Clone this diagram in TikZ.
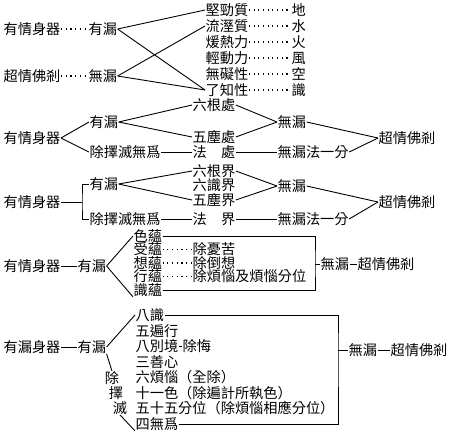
\documentclass[tikz,border=0pt]{standalone}
\usepackage{fontspec}
\usepackage{tikz}
\usetikzlibrary{positioning}
\newfontfamily\cjk{Noto Sans CJK TC}

\begin{document}
\begin{tikzpicture}[
    x=1pt, y=-1pt,
    lbl/.style={
      inner sep=0.4pt,
      anchor=west,
      text height=11.4pt,
      text depth=1.2pt,
      font=\cjk\fontsize{14.2pt}{14.2pt}\selectfont
    },
    zechar/.style={
      inner sep=0.4pt,
      text height=11.4pt,
      text depth=1.2pt,
      font=\cjk\fontsize{14.2pt}{14.2pt}\selectfont
    },
    link/.style={line width=0.9pt},
    dots/.style={line width=1.1pt, dash pattern=on 1.1pt off 3.6pt}
  ]
    \useasboundingbox (0,0) rectangle (457,437);

    \node[lbl] (body1) at (3,29) {有情身器};
    \node[lbl] (youlou1) at (88,29) {有漏};
    \node[lbl] (fo1) at (3,76) {超情佛剎};
    \node[lbl] (wulou1) at (88,76) {無漏};
    \node[lbl] (jian1) at (205,10) {堅勁質};
    \node[lbl] (liu1) at (205,26) {流溼質};
    \node[lbl] (nuan1) at (205,42) {煖熱力};
    \node[lbl] (qing1) at (205,58) {輕動力};
    \node[lbl] (ai1) at (205,74) {無礙性};
    \node[lbl] (zhi1) at (205,90) {了知性};
    \node[lbl] (di1) at (291,10) {地};
    \node[lbl] (shui1) at (291,26) {水};
    \node[lbl] (huo1) at (291,42) {火};
    \node[lbl] (feng1) at (291,58) {風};
    \node[lbl] (kong1) at (291,74) {空};
    \node[lbl] (shi1) at (291,90) {識};

    \draw[dots] (body1.east) -- (youlou1.west);
    \draw[dots] (fo1.east) -- (wulou1.west);
    \draw[link] (youlou1.east) -- (jian1.west);
    \draw[link] (youlou1.east) -- (zhi1.west);
    \draw[link] (wulou1.east) -- (liu1.west);
    \draw[link] (wulou1.east) -- (zhi1.west);
    \draw[dots] (jian1.east) -- (di1.west);
    \draw[dots] (liu1.east) -- (shui1.west);
    \draw[dots] (nuan1.east) -- (huo1.west);
    \draw[dots] (qing1.east) -- (feng1.west);
    \draw[dots] (ai1.east) -- (kong1.west);
    \draw[dots] (zhi1.east) -- (shi1.west);

    \node[lbl] (body2) at (3,138) {有情身器};
    \node[lbl] (youlou2) at (89,122) {有漏};
    \node[lbl] (wuwei2) at (89,152) {除擇滅無爲};
    \node[lbl] (gen2) at (192,105) {六根處};
    \node[lbl] (chen2) at (192,137) {五塵處};
    \node[lbl] (fa2) at (192,152) {法　處};
    \node[lbl] (wulou2) at (277,122) {無漏};
    \node[lbl] (fafen2) at (277,152) {無漏法一分};
    \node[lbl] (fo2) at (378,138) {超情佛剎};

    \draw[link] (body2.east) -- (youlou2.west);
    \draw[link] (body2.east) -- (wuwei2.west);
    \draw[link] (youlou2.east) -- (gen2.west);
    \draw[link] (youlou2.east) -- (chen2.west);
    \draw[link] (wuwei2.east) -- (fa2.west);
    \draw[link] (gen2.east) -- (wulou2.west);
    \draw[link] (chen2.east) -- (wulou2.west);
    \draw[link] (fa2.east) -- (fafen2.west);
    \draw[link] (wulou2.east) -- (fo2.west);
    \draw[link] (fafen2.east) -- (fo2.west);

    \node[lbl] (body3) at (3,202) {有情身器};
    \coordinate (fork3) at (82,202);
    \node[lbl] (youlou3) at (89,184) {有漏};
    \node[lbl] (wuwei3) at (89,219) {除擇滅無爲};
    \node[lbl] (gen3) at (192,171) {六根界};
    \node[lbl] (shi3) at (192,185) {六識界};
    \node[lbl] (chen3) at (192,200) {五塵界};
    \node[lbl] (fa3) at (192,219) {法　界};
    \node[lbl] (wulou3) at (277,186) {無漏};
    \node[lbl] (fafen3) at (277,219) {無漏法一分};
    \node[lbl] (fo3) at (378,202) {超情佛剎};

    \draw[link] (body3.east) -- (fork3);
    \draw[link] (youlou3.west) -| (fork3) |- (wuwei3.west);
    \draw[link] (youlou3.east) -- (gen3.west);
    \draw[link] (youlou3.east) -- (chen3.west);
    \draw[link] (wuwei3.east) -- (fa3.west);
    \draw[link] (gen3.east) -- (wulou3.west);
    \draw[link] (chen3.east) -- (wulou3.west);
    \draw[link] (fa3.east) -- (fafen3.west);
    \draw[link] (wulou3.east) -- (fo3.west);
    \draw[link] (fafen3.east) -- (fo3.west);

    \node[lbl] (body4) at (3,266) {有情身器};
    \node[lbl] (youlou4) at (77,266) {有漏};
    \node[lbl] (se4) at (133,236) {色蘊};
    \node[lbl] (shou4) at (133,249.5) {受蘊};
    \node[lbl] (xiang4) at (133,263) {想蘊};
    \node[lbl] (xing4) at (133,276.5) {行蘊};
    \node[lbl] (shi4) at (133,290) {識蘊};
    \node[lbl] (you4) at (192,249.5) {除憂苦};
    \node[lbl] (dao4) at (192,263) {除倒想};
    \node[lbl] (fan4) at (192,276.5) {除煩惱及煩惱分位};
    \coordinate (boxr4) at (315,264);
    \node[lbl] (wulou4) at (320,264) {無漏};
    \node[lbl] (fo4) at (357,264) {超情佛剎};

    \draw[link] (body4.east) -- (youlou4.west);
    \draw[link] (youlou4.east) -- (se4.west);
    \draw[link] (youlou4.east) -- (shi4.south west);
    \draw[dots] (shou4.east) -- (you4.west);
    \draw[dots] (xiang4.east) -- (dao4.west);
    \draw[dots] (xing4.east) -- (fan4.west);
    \draw[link] (se4.east) -| (boxr4) |- (shi4.east);
    \draw[link] (boxr4) -- (wulou4.west);
    \draw[link] (wulou4.east) -- (fo4.west);

    \node[lbl] (body5) at (3,347) {有漏身器};
    \node[lbl] (youlou5) at (77,347) {有漏};
    \node[lbl] (ba5) at (135,315) {八識};
    \node[lbl] (bian5) at (135,331) {五遍行};
    \node[lbl] (bie5) at (135,346) {八別境};
    \node[lbl] (hui5) at (182,346) {除悔};
    \node[lbl] (shan5) at (135,362) {三善心};
    \node[lbl] (fan5) at (135,377) {六煩惱（全除）};
    \node[lbl] (se5) at (135,393) {十一色（除遍計所執色）};
    \node[lbl] (fen5) at (135,408) {五十五分位（除煩惱相應分位）};
    \node[lbl] (wuwei5) at (135,424) {四無爲};
    \node[zechar] (chu5) at (112,378) {除};
    \node[zechar] (ze5) at (116,393) {擇};
    \node[zechar] (mie5) at (120,408) {滅};
    \coordinate (boxr5) at (338,350);
    \node[lbl] (wulou5) at (348,350) {無漏};
    \node[lbl] (fo5) at (390,350) {超情佛剎};

    \draw[link] (body5.east) -- (youlou5.west);
    \draw[link] (youlou5.east) -- (ba5.west);
    \draw[link] (youlou5.south east) -- (chu5.north);
    \draw[link] (mie5.south) -- (wuwei5.south west);
    \draw[link] (bie5.east) -- (hui5.west);
    \draw[link] (ba5.east) -| (boxr5) |- (wuwei5.east);
    \draw[link] (boxr5) -- (wulou5.west);
    \draw[link] (wulou5.east) -- (fo5.west);
  \end{tikzpicture}
\end{document}
